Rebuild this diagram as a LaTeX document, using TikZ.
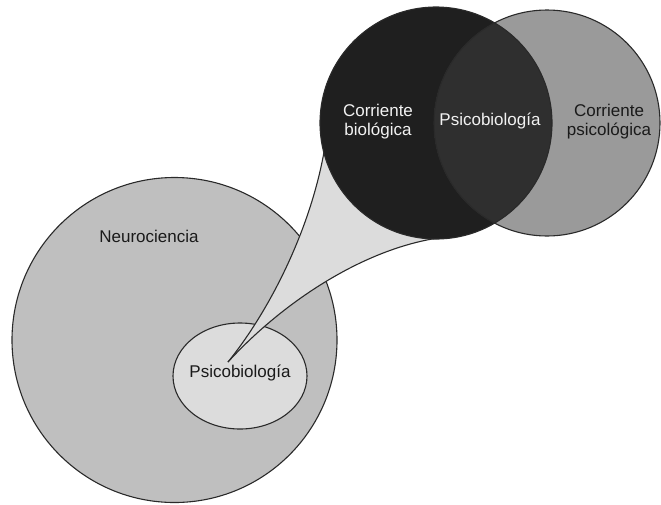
\documentclass[tikz,border=0pt]{standalone}
\usepackage{fontspec}
\setmainfont{Liberation Sans}
\usetikzlibrary{shapes.geometric}

\definecolor{neurofill}{HTML}{BFBFBF}
\definecolor{lightfill}{HTML}{DCDCDC}
\definecolor{biofill}{HTML}{1F1F1F}
\definecolor{overlapfill}{HTML}{2F2F2F}
\definecolor{psyfill}{HTML}{9A9A9A}
\definecolor{edgecol}{HTML}{2A2A2A}
\definecolor{inkdark}{HTML}{1A1A1A}
\definecolor{inklight}{HTML}{F2F2F2}

\begin{document}
\begin{tikzpicture}[x=1pt, y=-1pt,
  outline/.style={draw=edgecol, line width=1.1pt},
  disc/.style={circle, inner sep=0pt, outline},
  lbl/.style={font=\fontsize{17}{19}\selectfont, align=center, inner sep=0pt, text=inkdark},
  lbllight/.style={lbl, text=inklight}]
\useasboundingbox (0,0) rectangle (661,504);

% Neurociencia field
\node[disc, fill=neurofill, minimum size=325pt] (neuro) at (174.5,340) {};
\node[lbl] (neurotext) at (149,236) {Neurociencia};

% Psicobiologia inside Neurociencia
\node[ellipse, inner sep=0pt, outline, fill=lightfill,
      minimum width=134pt, minimum height=106pt] (psico) at (240,376) {};

% Magnifying callout from the small ellipse to the Venn diagram
\coordinate (tip) at (228,362);
\coordinate (lend) at (324,152);
\coordinate (rend) at (438,238);
\fill[lightfill] (tip) .. controls (270,310) and (310,230) .. (lend)
  -- (rend) .. controls (360,250) and (280,305) .. (tip) -- cycle;
\draw[outline] (tip) .. controls (270,310) and (310,230) .. (lend);
\draw[outline] (tip) .. controls (280,305) and (360,250) .. (rend);

\node[lbl] (psicotext) at (240,373) {Psicobiología};

% Venn diagram: biological and psychological currents
\node[disc, draw=none, fill=biofill, minimum size=232pt] (bio) at (436,123) {};
\node[disc, draw=none, fill=psyfill, minimum size=226pt] (psy) at (547,123) {};
\begin{scope}
  \clip (436,123) circle (116);
  \fill[overlapfill] (547,123) circle (113);
\end{scope}
\draw[outline] (436,123) circle (116);
\draw[outline] (547,123) circle (113);

\node[lbllight] (biotext) at (378,122) {Corriente\\biológica};
\node[lbllight] (overlaptext) at (490,121) {Psicobiología};
\node[lbl] (psytext) at (609,122) {Corriente\\psicológica};
\end{tikzpicture}
\end{document}
